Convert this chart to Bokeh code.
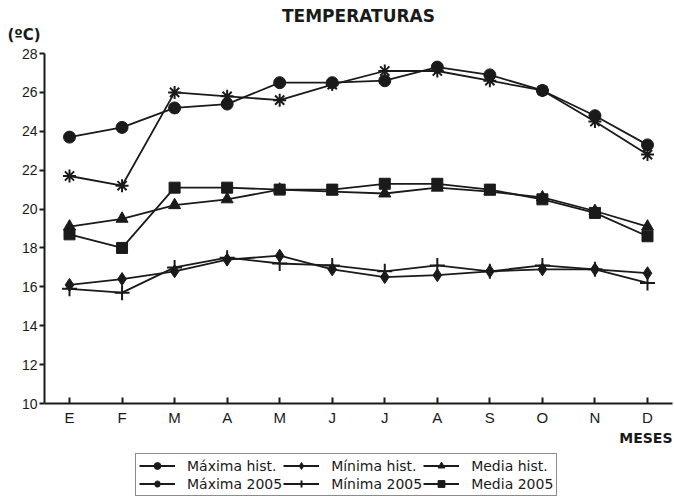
from bokeh.plotting import figure
from bokeh.layouts import column
from bokeh.models import (FixedTicker, Range1d, Legend, LegendItem, Title)
from bokeh.embed import file_html
from bokeh.resources import INLINE

# ---- data ----
month_pos = [1, 2, 3, 4, 5, 6, 7, 8, 9, 10, 11, 12]
month_labels = ["E", "F", "M", "A", "M", "J", "J", "A", "S", "O", "N", "D"]
y_ticks = [10, 12, 14, 16, 18, 20, 22, 24, 26, 28]

max_hist = [23.7, 24.2, 25.2, 25.4, 26.5, 26.5, 26.6, 27.3, 26.9, 26.1, 24.8, 23.3]
max_2005 = [21.7, 21.2, 26.0, 25.8, 25.6, 26.4, 27.1, 27.1, 26.6, 26.1, 24.5, 22.8]
med_hist = [19.1, 19.5, 20.2, 20.5, 21.0, 20.9, 20.8, 21.1, 20.9, 20.6, 19.9, 19.1]
med_2005 = [18.7, 18.0, 21.1, 21.1, 21.0, 21.0, 21.3, 21.3, 21.0, 20.5, 19.8, 18.6]
min_hist = [16.1, 16.4, 16.8, 17.4, 17.6, 16.9, 16.5, 16.6, 16.8, 16.9, 16.9, 16.7]
min_2005 = [15.9, 15.7, 17.0, 17.5, 17.2, 17.1, 16.8, 17.1, 16.8, 17.1, 16.9, 16.2]

series_names = ["Máxima hist.", "Mínima hist.", "Media hist.",
                "Máxima 2005", "Mínima 2005", "Media 2005"]
series_vals = [max_hist, min_hist, med_hist, max_2005, min_2005, med_2005]
series_markers = ["circle", "diamond", "triangle", "asterisk", "cross", "square"]
series_sizes = [12, 13, 12, 13, 15, 11]

INK = "#1a1a1a"

# ---------------- main chart ----------------
p = figure(width=674, height=448, output_backend="svg", toolbar_location=None,
           x_range=Range1d(0.524, 12.476), y_range=Range1d(10, 28),
           min_border_left=44, min_border_top=53, min_border_bottom=45,
           min_border_right=2, background_fill_color="white",
           border_fill_color="white", outline_line_color=None)
p.xgrid.visible = False
p.ygrid.visible = False

p.xaxis.ticker = FixedTicker(ticks=month_pos)
p.xaxis.major_label_overrides = {m: l for m, l in zip(month_pos, month_labels)}
p.xaxis.major_tick_in = 6
p.xaxis.major_tick_out = 0
p.xaxis.minor_tick_line_color = None
p.xaxis.major_label_standoff = 5
p.xaxis.major_label_text_font = "Liberation Sans"
p.xaxis.major_label_text_font_size = "15px"
p.xaxis.major_label_text_color = INK
p.xaxis.axis_line_width = 2
p.xaxis.axis_line_color = INK
p.xaxis.major_tick_line_width = 2
p.xaxis.major_tick_line_color = INK

p.yaxis.ticker = FixedTicker(ticks=y_ticks)
p.yaxis.major_tick_in = 0
p.yaxis.major_tick_out = 5
p.yaxis.minor_tick_line_color = None
p.yaxis.major_label_standoff = 2
p.yaxis.major_label_text_font = "Liberation Sans"
p.yaxis.major_label_text_font_size = "14px"
p.yaxis.major_label_text_color = INK
p.yaxis.axis_line_width = 2
p.yaxis.axis_line_color = INK
p.yaxis.major_tick_line_width = 2
p.yaxis.major_tick_line_color = INK

for name, vals, mk, sz in zip(series_names, series_vals, series_markers, series_sizes):
    p.line(month_pos, vals, line_color=INK, line_width=1.8)
    p.scatter(month_pos, vals, marker=mk, size=sz, fill_color=INK,
              line_color=INK, line_width=2 if mk in ("asterisk", "cross") else 1)

# titles: p.title is outermost, added ones sit nearer the frame
p.title.text = "TEMPERATURAS"
p.title.align = "center"
p.title.offset = 0
p.title.standoff = -23
p.title.text_font = "DejaVu Sans"
p.title.text_font_style = "bold"
p.title.text_font_size = "17px"
p.title.text_color = INK

p.add_layout(Title(text="(ºC)", align="left", offset=-37, standoff=19,
                   text_font="DejaVu Sans", text_font_style="bold",
                   text_font_size="15px", text_color=INK), "above")

p.add_layout(Title(text="MESES", align="right", offset=0, standoff=-2,
                   text_font="DejaVu Sans", text_font_style="bold",
                   text_font_size="14px", text_color=INK), "below")

# ---------------- legend strip ----------------
lg = figure(width=674, height=48, output_backend="svg", toolbar_location=None,
            title=None, x_range=Range1d(-100, -99), y_range=Range1d(-100, -99),
            x_axis_type=None, y_axis_type=None,
            min_border_left=0, min_border_right=0, min_border_top=0,
            min_border_bottom=0, outline_line_color=None,
            background_fill_color="white", border_fill_color="white")
lg.xgrid.visible = False
lg.ygrid.visible = False

items = []
for name, vals, mk, sz in zip(series_names, series_vals, series_markers, series_sizes):
    ln = lg.line(month_pos, vals, line_color=INK, line_width=1.8)
    sc = lg.scatter(month_pos, vals, marker=mk, size=sz, fill_color=INK,
                    line_color=INK, line_width=2 if mk in ("asterisk", "cross") else 1)
    items.append(LegendItem(label=name, renderers=[ln, sc]))

legend = Legend(items=items, orientation="horizontal", ncols=3,
                location=(91, 0), margin=0, padding=3, spacing=1,
                label_text_font="DejaVu Sans", label_text_font_size="14px",
                label_text_color=INK, label_height=16, label_standoff=12,
                glyph_width=36, glyph_height=17,
                border_line_color=INK, border_line_width=1.5,
                background_fill_color="white", background_fill_alpha=1.0)
lg.add_layout(legend, "center")

layout = column(p, lg, spacing=0)
open("out.html", "w").write(file_html(layout, INLINE))
